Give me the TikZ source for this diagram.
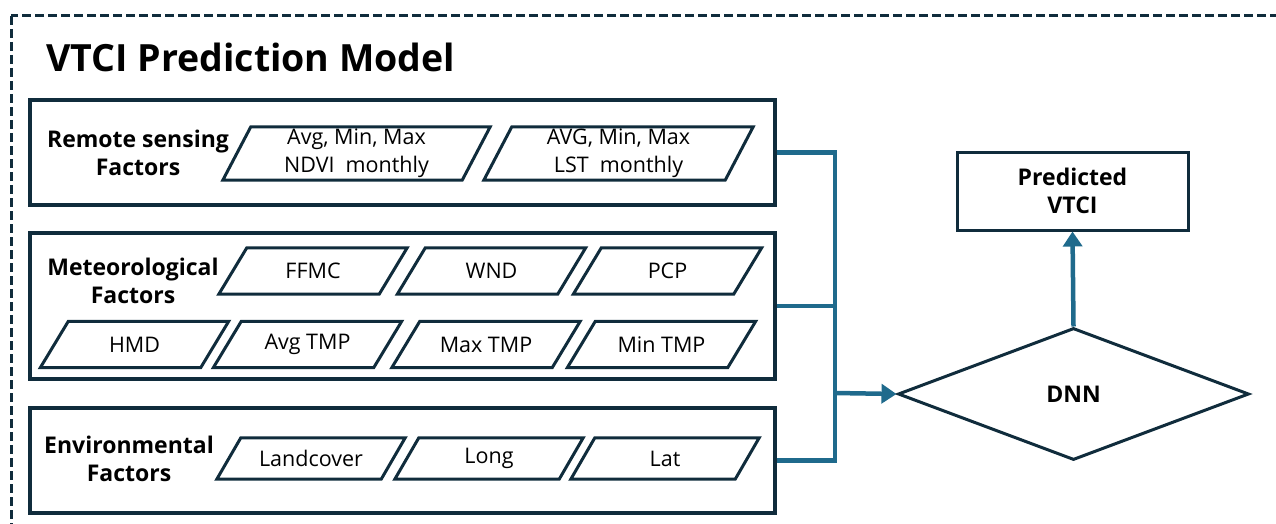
\documentclass[tikz,border=0pt]{standalone}
\usepackage{fontspec}
\setmainfont{Open Sans}
\usetikzlibrary{shapes.geometric,arrows.meta}
\definecolor{navy}{RGB}{16,44,60}
\definecolor{conn}{RGB}{31,106,140}
\tikzset{
  grp/.style={draw=navy, line width=3.4pt, minimum height=#1, inner sep=0pt},
  para/.style={rectangle, inner sep=0pt, minimum width=160pt, minimum height=#1,
    font=\fontsize{21.5}{28}\selectfont, align=center},
  paraline/.style={draw=navy, line width=3pt, line join=miter},
  lbl/.style={font=\bfseries\fontsize{23}{28}\selectfont, align=center, inner sep=0pt},
  connline/.style={draw=conn, line width=4.5pt, line join=miter},
  arr/.style={connline, -{Triangle[length=15pt,width=19pt]}},
}
% slanted frame around a named node; #2 = half of the skew
\newcommand\slantframe[2]{\draw[paraline] ([xshift=-#2]#1.south west) -- ([xshift=#2]#1.north west)
  -- ([xshift=#2]#1.north east) -- ([xshift=-#2]#1.south east) -- cycle;}
\begin{document}
\begin{tikzpicture}[x=1pt,y=-1pt]
\useasboundingbox (0,0) rectangle (1276,524);
\begin{scope}
\clip (0,0) rectangle (1276,524);
\draw[navy, line width=3pt, dash pattern=on 9pt off 4pt] (11,16) rectangle (1310,560);
\end{scope}
\node[anchor=base west, font=\bfseries\fontsize{37.5}{40}\selectfont, inner sep=0pt] (title) at (46,72) {VTCI Prediction Model};
% group boxes
\node[grp=105pt, minimum width=745pt] (b1) at (402.5,152.5) {};
\node[grp=146pt, minimum width=745pt] (b2) at (402.5,306) {};
\node[grp=105pt, minimum width=745pt] (b3) at (402.5,460.5) {};
% labels
\node[lbl] (l1) at (138,153) {Remote sensing\\Factors};
\node[lbl] (l2) at (133,281) {Meteorological\\Factors};
\node[lbl] (l3) at (129,459) {Environmental\\Factors};
% remote sensing
\node[para=53pt, minimum width=239pt] (ndvi) at (356.5,153.5) {Avg, Min, Max\\NDVI\ \ monthly};
\node[para=53pt, minimum width=241pt] (lst) at (618.5,153.5) {AVG, Min, Max\\LST\ \ monthly};
% meteorological
\node[para=46pt] (ffmc) at (313,271) {FFMC};
\node[para=46pt] (wnd) at (491.5,271) {WND};
\node[para=46pt] (pcp) at (667.5,271) {PCP};
\node[para=46pt] (hmd) at (134.5,344.5) {HMD};
\node[para=46pt] (avgt) at (307.5,344.5) {Avg TMP};
\node[para=46pt] (maxt) at (486,344.5) {Max TMP};
\node[para=46pt] (mint) at (661.5,344.5) {Min TMP};
% environmental
\node[para=41pt, minimum width=164pt] (land) at (311,458.5) {Landcover};
\node[para=41pt, minimum width=164pt] (long) at (489,458.5) {Long};
\node[para=41pt, minimum width=164pt] (lat) at (665,458.5) {Lat};
\foreach \n in {ndvi,lst,ffmc,wnd,pcp,hmd,avgt,maxt,mint}{\slantframe{\n}{14pt}}
\foreach \n in {land,long,lat}{\slantframe{\n}{12pt}}
% DNN and output
\node[diamond, aspect=2.66, draw=navy, line width=3pt, inner sep=0pt,
  minimum width=351pt, minimum height=132pt, font=\bfseries\fontsize{23}{28}\selectfont] (dnn) at (1073.5,394) {DNN};
\node[draw=navy, line width=3pt, minimum width=231pt, minimum height=78pt, inner sep=0pt,
  align=center, font=\bfseries\fontsize{23}{28}\selectfont] (out) at (1072.5,191) {Predicted\\VTCI};
% connectors
\coordinate (j) at (835,393);
\draw[connline] (b1.east) -| (j);
\draw[connline] (b3.east) -| (j);
\draw[connline] (b2.east) -- (b2.east -| j);
\draw[arr] (j) -- (dnn.west);
\draw[arr] (dnn.north) -- (out.south);
\end{tikzpicture}
\end{document}
